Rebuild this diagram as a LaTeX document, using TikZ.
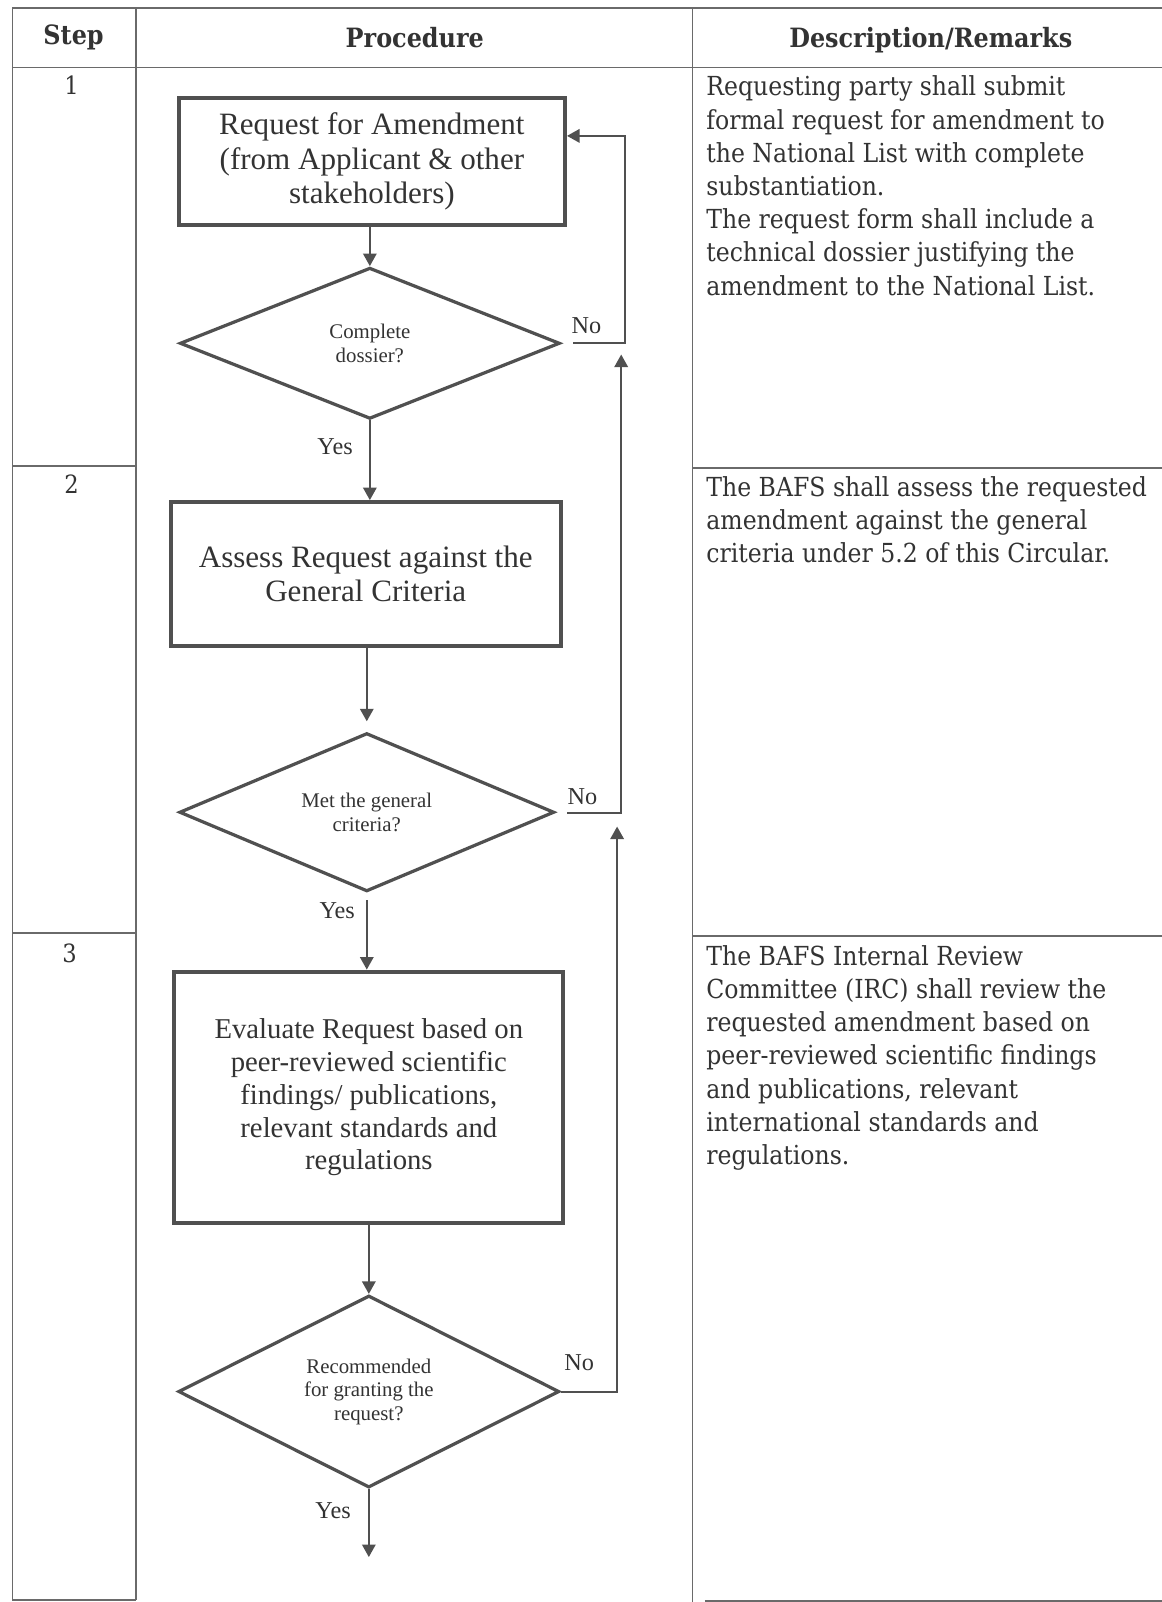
\documentclass[tikz,border=0pt]{standalone}
\usepackage{fontspec}
\setmainfont{Liberation Serif}
\newfontfamily\cam{DejaVu Serif Condensed}
\usetikzlibrary{shapes.geometric,arrows.meta}
\definecolor{ink}{HTML}{333333}
\definecolor{rulec}{HTML}{6A6A6A}
\definecolor{edge}{HTML}{505050}
\begin{document}
\begin{tikzpicture}[x=0.02cm,y=-0.02cm,
  tabline/.style={draw=rulec,line width=0.8pt},
  boxnode/.style={draw=edge,line width=2.3pt,text=ink,align=center,inner sep=0pt,
     font=\fontsize{17.3}{19}\selectfont},
  decnode/.style={diamond,draw=edge,line width=1.8pt,text=ink,align=center,inner sep=0pt,
     aspect=2.5,font=\fontsize{11.6}{13.1}\selectfont},
  conn/.style={draw=edge,line width=1.1pt,-{Triangle[length=7pt,width=7.5pt]}},
  lbl/.style={text=ink,font=\fontsize{13.5}{15}\selectfont,inner sep=0pt},
  hdr/.style={text=ink,font=\cam\bfseries\fontsize{14.8}{17}\selectfont,inner sep=0pt},
  desc/.style={text=ink,font=\cam\fontsize{14.6}{18.5}\selectfont,align=left,inner sep=0pt,anchor=north west},
  stepno/.style={text=ink,font=\cam\fontsize{14}{16}\selectfont,inner sep=0pt}]
\useasboundingbox (0,0) rectangle (1137,1568);
\fill[white] (0,0) rectangle (1137,1568);
% table
\draw[tabline] (12,8) -- (1137,8);
\draw[tabline] (12,66) -- (1137,66);
\draw[tabline] (12,8) -- (12,1566);
\draw[tabline] (133,8) -- (133,1566);
\draw[tabline] (678,8) -- (678,1568);
\draw[tabline] (12,456) -- (133,456);
\draw[tabline] (678,458) -- (1137,458);
\draw[tabline] (12,913) -- (133,913);
\draw[tabline] (678,916) -- (1137,916);
\draw[tabline] (12,1566) -- (133,1566);
\draw[tabline] (690,1567) -- (1137,1567);
% headers
\node[hdr] (hstep) at (72,37) {Step};
\node[hdr] (hproc) at (406,37) {Procedure};
\node[hdr] (hdesc) at (911,39) {Description/Remarks};
% step numbers
\node[stepno] (s1) at (70,83) {1};
\node[stepno] (s2) at (70,474) {2};
\node[stepno] (s3) at (68,933) {3};
% descriptions
\node[desc] (t1) at (691,74) {Requesting party shall submit\\formal request for amendment to\\the National List with complete\\substantiation.\\The request form shall include a\\technical dossier justifying the\\amendment to the National List.};
\node[desc] (t2) at (691,466) {The BAFS shall assess the requested\\amendment against the general\\criteria under 5.2 of this Circular.};
\node[desc] (t3) at (691,925) {The BAFS Internal Review\\Committee (IRC) shall review the\\requested amendment based on\\peer-reviewed scientific findings\\and publications, relevant\\international standards and\\regulations.};
% flowchart nodes
\node[boxnode,minimum width=7.56cm,minimum height=2.48cm] (b1) at (364,158) {Request for Amendment\\(from Applicant \& other\\stakeholders)};
\node[decnode,minimum width=7.44cm,minimum height=2.96cm] (d1) at (362,336) {Complete\\dossier?};
\node[boxnode,minimum width=7.64cm,minimum height=2.82cm] (b2) at (358,562) {Assess Request against the\\General Criteria};
\node[decnode,minimum width=7.34cm,minimum height=3.10cm] (d2) at (359,795) {Met the general\\criteria?};
\node[boxnode,minimum width=7.62cm,minimum height=4.92cm,font=\fontsize{16}{18.3}\selectfont] (b3) at (361,1074) {Evaluate Request based on\\peer-reviewed scientific\\findings/ publications,\\relevant standards and\\regulations};
\node[decnode,minimum width=7.46cm,minimum height=3.76cm] (d3) at (361,1362) {Recommended\\for granting the\\request?};
% coordinates for free ends / bends
\coordinate (n1a) at (561,336);
\coordinate (n1b) at (612,336);
\coordinate (n1c) at (612,133);
\coordinate (n2a) at (555,796);
\coordinate (n2b) at (608,796);
\coordinate (n2c) at (608,347);
\coordinate (n3b) at (604,1362);
\coordinate (n3c) at (604,809);
\coordinate (y2a) at (359,881);
\coordinate (a2end) at (359,706);
\coordinate (endp) at (361,1524);
% connectors
\draw[conn] (d1.north |- b1.south) -- (d1.north);
\draw[conn] (d1.south) -- (d1.south |- b2.north);
\draw[conn] (b2.south -| a2end) -- (a2end);
\draw[conn] (y2a) -- (y2a |- b3.north);
\draw[conn] (b3.south -| d3.north) -- (d3.north);
\draw[conn] (d3.south) -- (endp);
\draw[conn] (n1a) -- (n1b) -- (n1c) -- (b1.east |- n1c);
\draw[conn] (n2a) -- (n2b) -- (n2c);
\draw[conn] (d3.east) -- (n3b) -- (n3c);
% labels
\node[lbl] (no1) at (574,319) {No};
\node[lbl] (no2) at (570,780) {No};
\node[lbl] (no3) at (567,1334) {No};
\node[lbl] (yes1) at (328,437) {Yes};
\node[lbl] (yes2) at (330,891) {Yes};
\node[lbl] (yes3) at (326,1479) {Yes};
\end{tikzpicture}
\end{document}
